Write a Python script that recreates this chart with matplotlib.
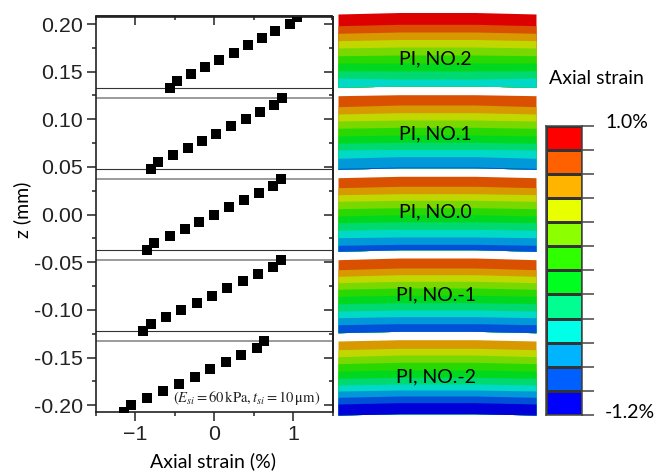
import matplotlib
matplotlib.use("Agg")
import matplotlib.pyplot as plt
from matplotlib.colors import ListedColormap
from matplotlib.ticker import MultipleLocator
import numpy as np

# strain / z points for the five PI layers
z_no2 = [0.1325, 0.14, 0.1475, 0.155, 0.1625, 0.17, 0.1775, 0.185, 0.1925, 0.2, 0.2075]
strain_no2 = [-0.567, -0.478, -0.296, -0.114, 0.063, 0.245, 0.423, 0.60, 0.774, 0.956, 1.044]
z_no1 = [0.0475, 0.055, 0.0625, 0.07, 0.0775, 0.085, 0.0925, 0.10, 0.1075, 0.115, 0.1225]
strain_no1 = [-0.803, -0.710, -0.524, -0.338, -0.156, 0.025, 0.216, 0.397, 0.579, 0.761, 0.854]
z_no0 = [-0.0375, -0.03, -0.0225, -0.015, -0.0075, 0.0, 0.0075, 0.015, 0.0225, 0.03, 0.0375]
strain_no0 = [-0.850, -0.761, -0.567, -0.376, -0.190, 0.0, 0.190, 0.381, 0.562, 0.748, 0.841]
z_nom1 = [-0.1225, -0.115, -0.1075, -0.10, -0.0925, -0.085, -0.0775, -0.07, -0.0625, -0.055, -0.0475]
strain_nom1 = [-0.901, -0.803, -0.609, -0.419, -0.220, -0.025, 0.165, 0.359, 0.554, 0.748, 0.841]
z_nom2 = [-0.2075, -0.20, -0.1925, -0.185, -0.1775, -0.17, -0.1625, -0.155, -0.1475, -0.14, -0.1325]
strain_nom2 = [-1.150, -1.053, -0.850, -0.647, -0.444, -0.249, -0.051, 0.144, 0.342, 0.541, 0.634]

interface_dark = [0.1325, 0.0475, -0.0375, -0.1225]
interface_gray = [0.1225, 0.0375, -0.0475, -0.1325]

bar_colors = ["#ff0000", "#ff6000", "#ffb400", "#e8ff00", "#8cff00", "#30ff00",
              "#00ff20", "#00ff90", "#00ffe8", "#00b4ff", "#0060ff", "#0000ff"]
band_colors = ["#dc0000", "#d85000", "#d89800", "#c0d800", "#78d800", "#28d800",
               "#00d820", "#00d870", "#00d8c8", "#0098d8", "#0050d8", "#0000d8"]

# band limits of the contour panels, at the panel edge and at the middle
panel_x = [338, 400, 475, 536]
panel_names = ["PI, NO.2", "PI, NO.1", "PI, NO.0", "PI, NO.-1", "PI, NO.-2"]
panel_first_band = [0, 1, 1, 1, 2]
panel_edge = [
    [14, 25.7, 33.3, 40.7, 48, 55.7, 63, 70.7, 78, 87.3],
    [95.7, 106.7, 114, 121, 128.3, 136, 143.3, 150, 158.3, 168.3, 169.3],
    [177.7, 187.7, 194.7, 201.3, 208.7, 216, 222.7, 230.3, 237.7, 245.3, 251.3],
    [259.7, 269.7, 276.3, 282.7, 289.3, 296.3, 303.7, 311, 317.7, 324.7, 332.7],
    [341, 349.7, 356.7, 363.7, 371, 378.3, 385, 391, 397.3, 404, 415],
]
panel_mid = [
    [12.5, 24.3, 32, 39.5, 47, 55, 63, 71, 79, 86],
    [94.7, 105, 112.7, 120, 127.3, 135, 142.3, 149.3, 156.7, 167, 167.8],
    [176.3, 186.3, 193.7, 200.3, 207.7, 214.7, 222, 229.3, 237, 244.3, 249.7],
    [258, 268, 274.7, 281.3, 288, 295.3, 302.7, 310, 316.7, 323.7, 331.3],
    [339.7, 348.3, 355, 362.3, 370, 377.3, 384, 390, 396, 402.7, 413.7],
]
label_y = [59, 134, 212, 295, 377]

bar_levels = [1.0, 0.817, 0.633, 0.45, 0.267, 0.083, -0.1, -0.283, -0.467, -0.65, -0.833, -1.017, -1.2]

W, H = 667.0, 472.0
plt.rcParams["font.family"] = ["Liberation Sans", "DejaVu Sans"]
plt.rcParams["mathtext.fontset"] = "stix"
fig = plt.figure(figsize=(W / 100, H / 100), dpi=100)


def px_axes(left, top, right, bottom):
    return fig.add_axes([left / W, 1 - bottom / H, (right - left) / W, (bottom - top) / H])


# overlay in pixels for the contour panels and the loose text
over = fig.add_axes([0, 0, 1, 1])
over.set_xlim(0, W)
over.set_ylim(H, 0)
over.axis("off")
for edge, mid, first, name, ly in zip(panel_edge, panel_mid, panel_first_band, panel_names, label_y):
    # each band runs down to the panel bottom so no seams show between bands
    bot = [edge[-1], mid[-1], mid[-1], edge[-1]]
    for i in range(len(edge) - 1):
        top = [edge[i], mid[i], mid[i], edge[i]]
        over.fill_between(panel_x, top, bot, color=band_colors[first + i], lw=0)
    over.text(435.5, ly, name, family="Lato", fontsize=14, ha="center", va="center", color="black")
over.text(596, 78, "Axial strain", family="Lato", fontsize=14, ha="center", va="center", color="black")
over.text(605, 123, "1.0%", family="Lato", fontsize=14, ha="left", va="center", color="black")
over.text(605, 413, "-1.2%", family="Lato", fontsize=14, ha="left", va="center", color="black")
over.text(212.5, 461, "Axial strain (%)", family="Lato", fontsize=14, ha="center", va="center", color="black")
over.text(22, 210, "z (mm)", family="Lato", fontsize=14, ha="center", va="center", rotation=90, color="black")

# main plot
ax = px_axes(96, 16.5, 332.5, 412)
ax.patch.set_alpha(0)
for v in interface_dark:
    ax.axhline(v, color="#333333", lw=0.8, zorder=1)
for v in interface_gray:
    ax.axhline(v, color="#8a8a8a", lw=1.2, zorder=1)
for z, s in [(z_no2, strain_no2), (z_no1, strain_no1), (z_no0, strain_no0),
             (z_nom1, strain_nom1), (z_nom2, strain_nom2)]:
    ax.plot(s, z, "s", color="black", ms=6.7, mew=0, zorder=3)
ax.set_xlim(-1.5, 1.5)
ax.set_ylim(-0.2072, 0.2079)
ax.xaxis.set_major_locator(MultipleLocator(1))
ax.xaxis.set_minor_locator(MultipleLocator(0.5))
ax.yaxis.set_minor_locator(MultipleLocator(0.025))
ax.set_yticks([-0.2, -0.15, -0.1, -0.05, 0, 0.05, 0.1, 0.15, 0.2])
ax.set_yticklabels(["-0.20", "-0.15", "-0.10", "-0.05", "0.00", "0.05", "0.10", "0.15", "0.20"])
ax.tick_params(which="major", length=6.2, width=1.1, labelsize=15.4, pad=3, color="#222222", labelcolor="#222222")
ax.tick_params(which="minor", length=3, width=1.1, color="#222222")
for sp in ax.spines.values():
    sp.set_linewidth(1.2)
    sp.set_color("#222222")

# inward ticks on the top and right sides
top_ax = ax.secondary_xaxis("top")
top_ax.xaxis.set_major_locator(MultipleLocator(1))
top_ax.xaxis.set_minor_locator(MultipleLocator(0.5))
right_ax = ax.secondary_yaxis("right")
right_ax.yaxis.set_major_locator(MultipleLocator(0.05))
right_ax.yaxis.set_minor_locator(MultipleLocator(0.025))
for sec in [top_ax, right_ax]:
    sec.tick_params(which="major", direction="in", length=6.2, width=1.1, color="#222222",
                    labelleft=False, labelright=False, labeltop=False, labelbottom=False)
    sec.tick_params(which="minor", direction="in", length=3, width=1.1, color="#222222")
    sec.spines[:].set_linewidth(1.2)

ax.text(0.947, 0.035,
        r"$\left(E_{si}=60\,\mathrm{kPa},t_{si}=10\,\mathrm{\mu m}\right)$",
        transform=ax.transAxes, ha="right", va="center", fontsize=10.5, color="#222222")

# colour bar
cb = px_axes(545.5, 125.7, 582, 415)
levels = np.array(bar_levels)
cb.pcolormesh([0, 1], levels[::-1], np.arange(12)[::-1].reshape(-1, 1),
              cmap=ListedColormap(bar_colors), vmin=0, vmax=11,
              edgecolors="#333333", linewidth=0.8)
cb.set_xlim(0, 1)
cb.set_ylim(-1.2, 1.0)
cb.set_xticks([])
cb.yaxis.tick_right()
cb.set_yticks(bar_levels)
cb.tick_params(axis="y", length=8.6, width=1.1, color="#444444", labelright=False)
for sp in cb.spines.values():
    sp.set_linewidth(1.1)
    sp.set_color("#444444")

fig.savefig("out.png", dpi=100)
